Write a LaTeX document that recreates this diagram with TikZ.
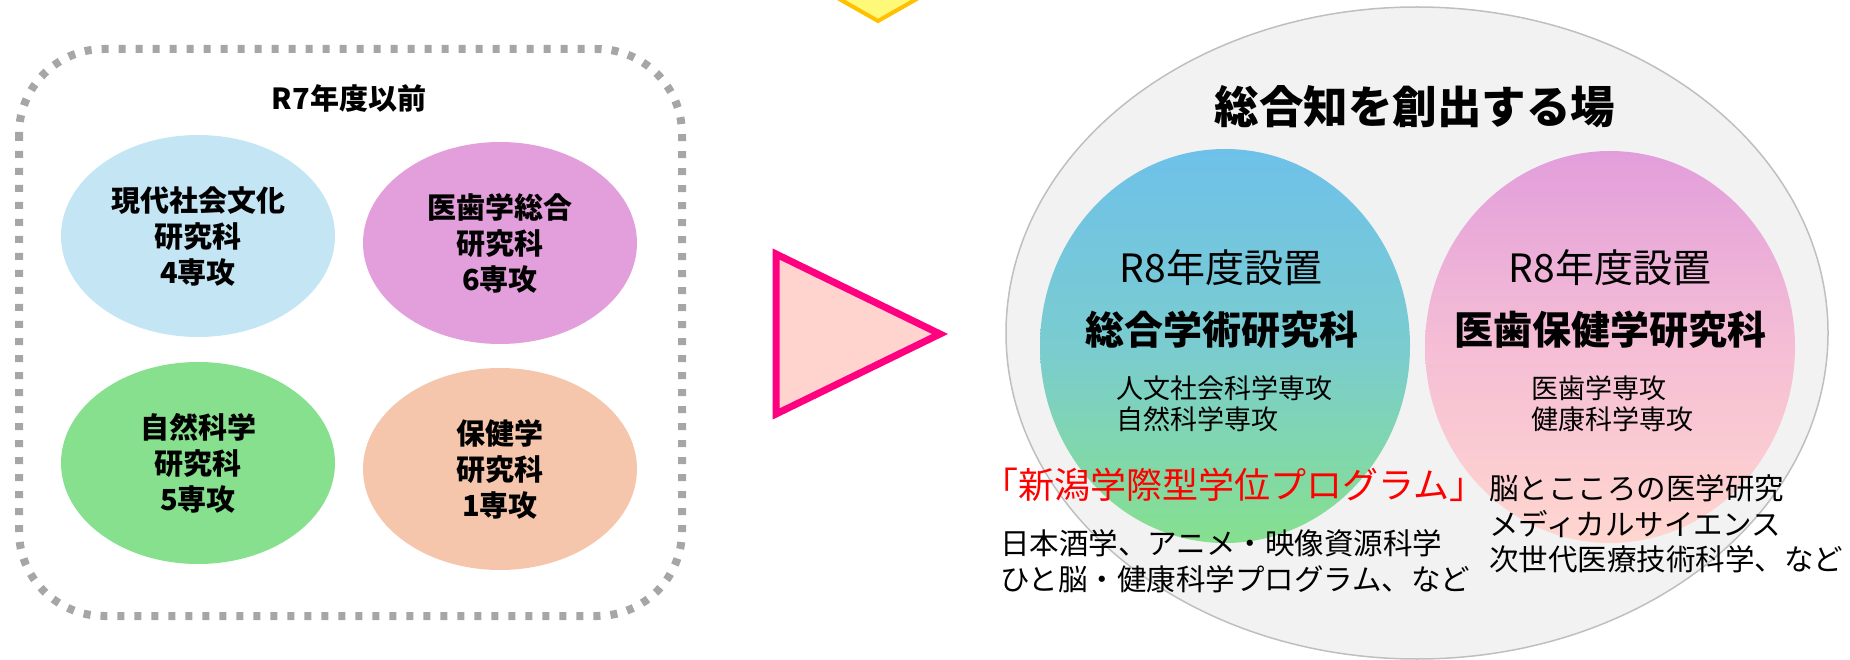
\documentclass[tikz,border=0pt]{standalone}
\usepackage{fontspec}
\setmainfont{Noto Sans CJK JP}
\usetikzlibrary{shapes.geometric}
\definecolor{dashgray}{HTML}{A6A6A6}
\definecolor{cblue}{HTML}{C3E5F4}
\definecolor{cpink}{HTML}{E39FDB}
\definecolor{cgreen}{HTML}{86E08E}
\definecolor{cpeach}{HTML}{F5C6AB}
\definecolor{bigfill}{HTML}{F2F2F2}
\definecolor{bigline}{HTML}{BFBFBF}
\definecolor{bgtop}{HTML}{6EC1E9}
\definecolor{bgmid}{HTML}{7ACCD0}
\definecolor{bgbot}{HTML}{86E08E}
\definecolor{pktop}{HTML}{E29EDB}
\definecolor{pkmid}{HTML}{F5BED5}
\definecolor{pkbot}{HTML}{FFD6CF}
\definecolor{ylfill}{HTML}{FFF97A}
\definecolor{ylline}{HTML}{FFC000}
\definecolor{trline}{HTML}{FF0080}
\definecolor{trfill}{HTML}{FFD4CF}
\definecolor{redtxt}{HTML}{FF0000}
\tikzset{
  oval/.style={ellipse, inner sep=0pt, align=center},
  smalloval/.style={oval, minimum width=274pt, minimum height=202pt,
     font=\bfseries\fontsize{29}{36}\selectfont},
  txt/.style={inner sep=0pt, align=left},
}
\begin{document}
\begin{tikzpicture}[x=1pt,y=-1pt]
\useasboundingbox (0,0) rectangle (1850,660);

% yellow arrow tip at top
\draw[fill=ylfill, draw=ylline, line width=4pt, line join=miter]
  (820,-12) -- (878,21) -- (936,-12) -- cycle;

% left dashed frame
\draw[dashgray, line width=8pt, dash pattern=on 7pt off 10pt, rounded corners=85pt]
  (19,49) rectangle (682,616);
\node[txt, font=\bfseries\fontsize{29}{34}\selectfont] (r7) at (349,98) {R7年度以前};

\node[smalloval, fill=cblue] (gen) at (198,236) {現代社会文化\\研究科\\4専攻};
\node[smalloval, fill=cpink] (iga) at (500,243) {医歯学総合\\研究科\\6専攻};
\node[smalloval, fill=cgreen] (shi) at (198,463) {自然科学\\研究科\\5専攻};
\node[smalloval, fill=cpeach] (hok) at (500,469) {保健学\\研究科\\1専攻};

% pink triangle
\draw[fill=trfill, draw=trline, line width=7pt, line join=miter]
  (776,254) -- (940,334) -- (776,414) -- cycle;

% right big ellipse
\node[oval, fill=bigfill, draw=bigline, line width=1.5pt,
  minimum width=822pt, minimum height=652pt] (big) at (1417,333) {};
\node[txt, font=\bfseries\fontsize{44.5}{50}\selectfont] (ttl) at (1415,107) {総合知を創出する場};

\node[oval, top color=bgtop, bottom color=bgbot, middle color=bgmid,
  minimum width=370pt, minimum height=394pt] (sog) at (1225,346) {};
\node[oval, top color=pktop, bottom color=pkbot, middle color=pkmid,
  minimum width=370pt, minimum height=392pt] (iho) at (1610,347) {};

\node[txt, font=\fontsize{39}{44}\selectfont] (r8a) at (1221,268) {R8年度設置};
\node[txt, font=\fontsize{39}{44}\selectfont] (r8b) at (1610,268) {R8年度設置};
\node[txt, font=\bfseries\fontsize{39}{44}\selectfont] (soname) at (1222,330) {総合学術研究科};
\node[txt, font=\bfseries\fontsize{39}{44}\selectfont] (ihname) at (1610,330) {医歯保健学研究科};

\node[txt, anchor=west, font=\fontsize{27}{31}\selectfont] (solist) at (1116,403.5) {人文社会科学専攻\\自然科学専攻};
\node[txt, anchor=west, font=\fontsize{27}{31}\selectfont] (ihlist) at (1531,403.5) {医歯学専攻\\健康科学専攻};

\node[txt, anchor=west, text=redtxt, font=\fontsize{36}{40}\selectfont] (prog) at (982,485) {「新潟学際型学位プログラム」};
\node[txt, anchor=west, font=\fontsize{29.5}{36}\selectfont] (plist) at (1000,561) {日本酒学、アニメ・映像資源科学\\ひと脳・健康科学プログラム、など};
\node[txt, anchor=west, font=\fontsize{29.5}{35.5}\selectfont] (mlist) at (1489,524) {脳とこころの医学研究\\メディカルサイエンス\\次世代医療技術科学、など};
\end{tikzpicture}
\end{document}
